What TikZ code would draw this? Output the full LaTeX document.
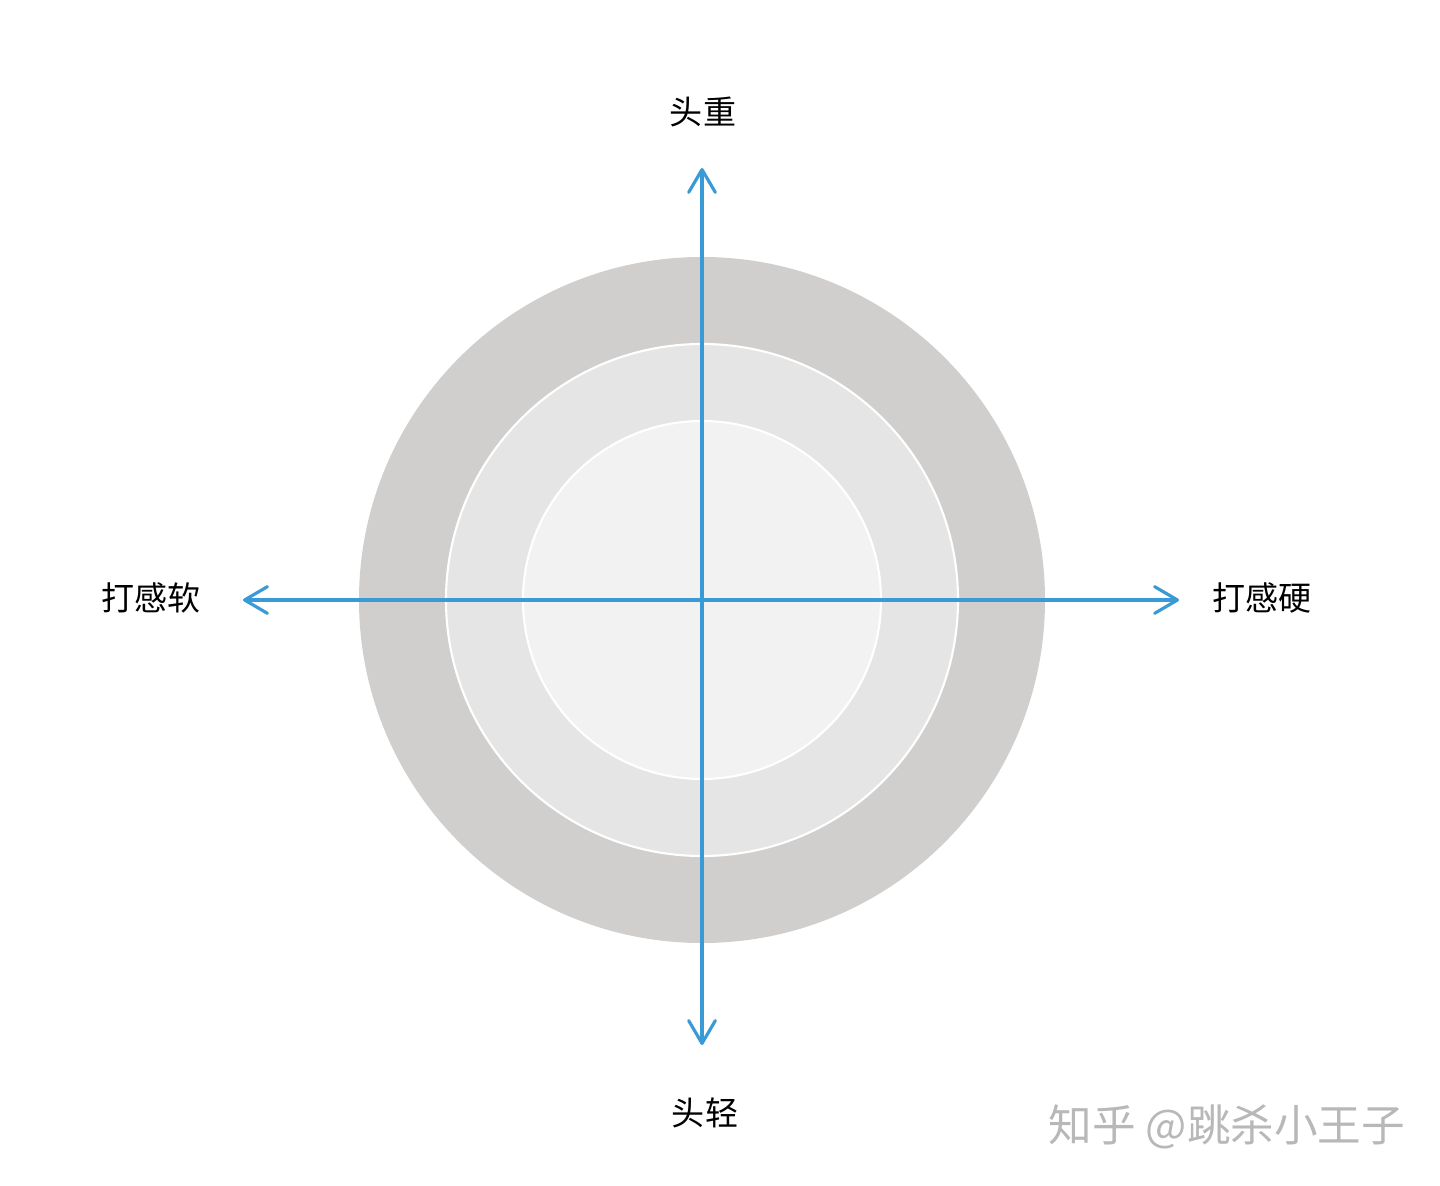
\documentclass[tikz,border=0pt]{standalone}
\usepackage{fontspec}
\newfontfamily\cjk{Noto Sans CJK SC}
\usetikzlibrary{arrows.meta}
\definecolor{axisblue}{HTML}{3A9AD6}
\definecolor{ringouter}{HTML}{D0CFCE}
\definecolor{ringmid}{HTML}{E5E5E5}
\definecolor{ringinner}{HTML}{F2F2F2}
\tikzset{
  axislabel/.style={font=\cjk\fontsize{9.4}{11}\selectfont, text=black, inner sep=0pt},
  axisline/.style={line width=0.9pt, color=axisblue, -{Straight Barb[length=6.5pt, width=7.6pt, line width=0.9pt, round]}},
}
\begin{document}
\begin{tikzpicture}[x=0.01cm, y=-0.01cm]
		%%%%% START %%%%%
		\useasboundingbox[fill=white] (0, 0) rectangle (1440, 1186);
		
		\coordinate (centre) at (702, 600);
		
		\fill[color=ringouter] (centre) circle (343);
		\draw[line width=0.6pt, color=white, fill=ringmid] (centre) circle (256);
		\draw[line width=0.6pt, color=white, fill=ringinner] (centre) circle (179);
		
		\coordinate (top) at (702, 168);
		\coordinate (bottom) at (702, 1045);
		\coordinate (left) at (243, 600);
		\coordinate (right) at (1179, 600);
		
		\draw[axisline] (centre) -- (top);
		\draw[axisline] (centre) -- (bottom);
		\draw[axisline] (centre) -- (left);
		\draw[axisline] (centre) -- (right);
		
		\node[axislabel] (heavy) at (703, 112) {头重};
		\node[axislabel] (light) at (705, 1113) {头轻};
		\node[axislabel] (soft) at (151, 598) {打感软};
		\node[axislabel] (hard) at (1262, 598) {打感硬};
		
		\node[font=\cjk\fontsize{12.4}{14}\selectfont, text=black!28, inner sep=0pt] (mark) at (1227, 1127) {知乎 @跳杀小王子};
		%%%%% END %%%%%
	\end{tikzpicture}
\end{document}
